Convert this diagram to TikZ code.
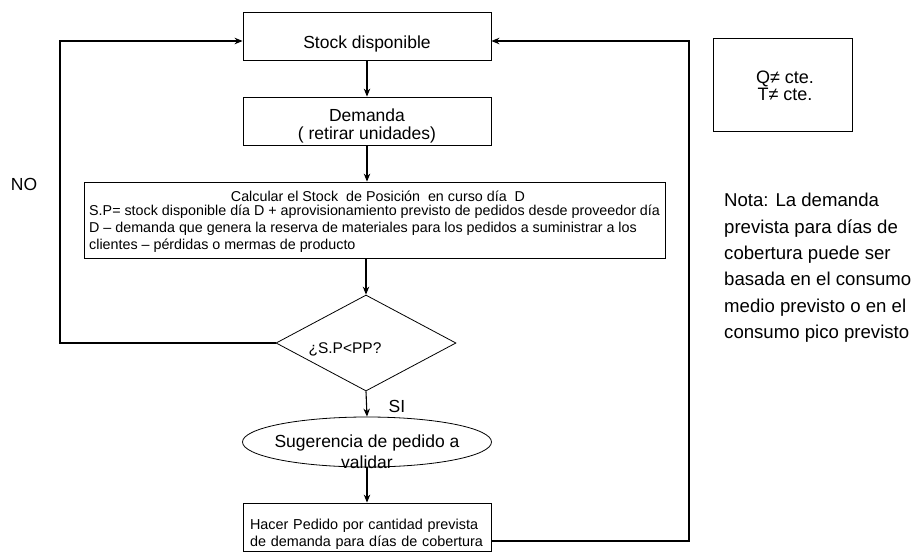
\documentclass[tikz,border=0pt]{standalone}
\usepackage{fontspec}
\setmainfont{Liberation Sans}
\usetikzlibrary{arrows.meta,shapes.geometric}
\newcommand\bigtxt{\fontsize{17.5pt}{18pt}\selectfont}
\newcommand\smalltxt{\fontsize{14.3pt}{17pt}\selectfont}
\newcommand\ordertxt{\fontsize{14.4pt}{16.5pt}\selectfont}
\newcommand\notetxt{\fontsize{18.6pt}{26.4pt}\selectfont}
\begin{document}
\begin{tikzpicture}[x=1pt,y=-1pt,
  box/.style={draw, line width=0.8pt, inner sep=0pt},
  flow/.style={line width=1.1pt, -{Stealth[length=8pt,width=6.5pt]}},
  loopline/.style={line width=1.4pt, -{Stealth[length=8pt,width=6.5pt]}},
  lbl/.style={inner sep=0pt}]
\useasboundingbox (0,0) rectangle (919,552);

% process column
\node[box, minimum width=248pt, minimum height=48pt, font=\bigtxt] (stock) at (367,36)
  {\raisebox{-12pt}[0pt][0pt]{Stock disponible}};
\node[box, minimum width=248pt, minimum height=48pt, font=\bigtxt] (dem) at (367,121)
  {\raisebox{-10pt}[0pt][0pt]{\begin{tabular}{@{}c@{}}Demanda\\( retirar unidades)\end{tabular}}};
\node[box, minimum width=581pt, minimum height=76pt] (calc) at (374.5,220) {};
\node[lbl, font=\smalltxt] (calct) at (378,196)
  {Calcular el Stock\ \ de Posición\ \ en curso día\ \ D};
\node[lbl, font=\smalltxt, align=left, anchor=north west] (calcb) at (89,205)
  {S.P= stock disponible día D + aprovisionamiento previsto de pedidos desde proveedor día\\
   D – demanda que genera la reserva de materiales para los pedidos a suministrar a los\\
   clientes – pérdidas o mermas de producto};
\node[draw, line width=0.8pt, diamond, minimum width=180pt, minimum height=96pt, inner sep=0pt] (dia) at (366,343) {};
\node[lbl, font=\fontsize{15.5pt}{18pt}\selectfont] (diat) at (345,349) {¿S.P<PP?};
\node[draw, line width=0.8pt, ellipse, minimum width=249pt, minimum height=50pt, inner sep=0pt] (sug) at (367,442) {};
\node[lbl, font=\bigtxt, align=center] (sugt) at (367,452)
  {Sugerencia de pedido a\\[3pt]validar};
\node[box, minimum width=248pt, minimum height=48pt, inner xsep=7pt, text width=234pt,
  align=left, font=\ordertxt] (hacer) at (367,527)
  {\raisebox{-11.5pt}[0pt][0pt]{\begin{tabular}{@{}l@{}}Hacer Pedido por cantidad prevista\\de demanda para días de cobertura\end{tabular}}};

% side notes
\node[box, minimum width=139pt, minimum height=93pt] (qt) at (782.5,84.5) {};
\node[lbl, font=\fontsize{18pt}{15pt}\selectfont, align=center] (qtt) at (785,86) {Q≠ cte.\\T≠ cte.};
\node[lbl, font=\notetxt, align=left, anchor=north west] (nota) at (724,193)
  {Nota: La demanda\\prevista para días de\\cobertura puede ser\\basada en el consumo\\medio previsto o en el\\consumo pico previsto};

\node[lbl, font=\bigtxt] (no) at (24,184) {NO};
\node[lbl, font=\bigtxt] (si) at (397,406) {SI};

% connectors
\coordinate (loopL) at (60,0);
\coordinate (rtop) at (689,41);
\draw[flow] (stock.south) -- (dem.north);
\draw[flow] (dem.south) -- (dem.south |- calc.north);
\draw[flow] (dia.north |- calc.south) -- (dia.north);
\draw[flow] (dia.south) -- (sug.north);
\draw[flow] (sug.south) -- (hacer.north);
\draw[loopline] (dia.west) -- (dia.west -| loopL) |- ([yshift=-5pt]stock.west);
\draw[loopline] ([yshift=-14pt]hacer.east) -| (rtop) -- ([yshift=-5pt]stock.east);
\end{tikzpicture}
\end{document}
